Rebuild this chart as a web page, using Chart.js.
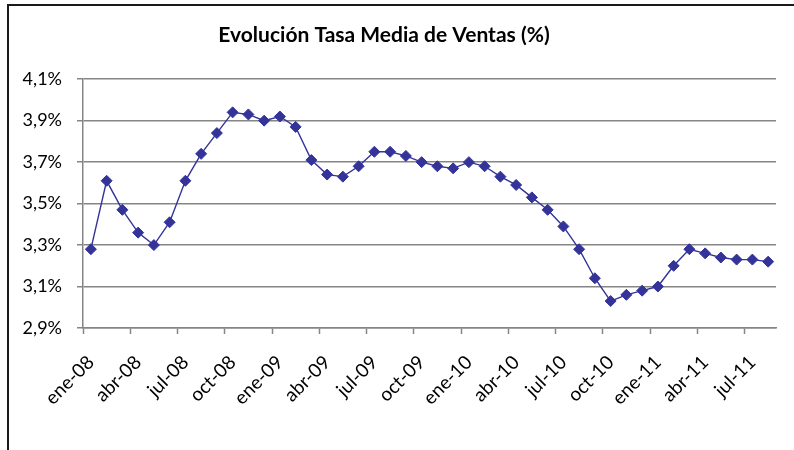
<!DOCTYPE html>
<html>
<head>
<meta charset="utf-8">
<script src="https://cdn.jsdelivr.net/npm/chart.js@4/dist/chart.umd.min.js"></script>
<style>
  body { margin: 0; background: #fff; }
  #wrap { position: relative; width: 794px; height: 450px; overflow: hidden; }
  #frame { position: absolute; left: 7px; top: 4px; width: 800px; height: 460px;
           border-left: 2px solid #1a1a1a; border-top: 2px solid #1a1a1a; }
  canvas { position: absolute; left: 0; top: 0; }
</style>
</head>
<body>
<div id="wrap">
  <canvas id="myChart" width="794" height="450"></canvas>
  <div id="frame"></div>
</div>
<script>
// meses de ene-08 a ago-11
var months = ['ene','feb','mar','abr','may','jun','jul','ago','sep','oct','nov','dic'];
var years = ['08','09','10','11'];
var labels = [];
years.forEach((y) => {
  months.forEach((m) => {
    if (labels.length < 44) labels.push(m + '-' + y);
  });
});

var tasaMedia = [
  3.28, 3.61, 3.47, 3.36, 3.30, 3.41, 3.61, 3.74, 3.84, 3.94, 3.93, 3.90,
  3.92, 3.87, 3.71, 3.64, 3.63, 3.68, 3.75, 3.75, 3.73, 3.70, 3.68, 3.67,
  3.70, 3.68, 3.63, 3.59, 3.53, 3.47, 3.39, 3.28, 3.14, 3.03, 3.06, 3.08,
  3.10, 3.20, 3.28, 3.26, 3.24, 3.23, 3.23, 3.22
];

var yMin = 2.9, yMax = 4.1, yStep = 0.2;

var fontFam = 'Lato, "Open Sans", sans-serif';
var gridGray = '#858585';

// el titulo va un poco a la izquierda del centro del lienzo
var titleShift = {
  id: 'titleShift',
  afterLayout: (chart) => {
    if (chart.titleBlock) chart.titleBlock.right -= 18;
  }
};

var ctx = document.getElementById('myChart').getContext('2d');
var myLineChart = new Chart(ctx, {
  type: 'line',
  data: {
    labels: labels,
    datasets: [{
      label: 'Tasa media',
      data: tasaMedia,
      borderColor: '#333399',
      backgroundColor: '#333399',
      borderWidth: 1.4,
      pointStyle: 'rectRot',
      pointRadius: 5.5,
      pointBorderWidth: 1,
      pointBackgroundColor: '#333399',
      pointBorderColor: '#333399',
      tension: 0
    }]
  },
  plugins: [titleShift],
  options: {
    responsive: false,
    animation: false,
    devicePixelRatio: 1,
    layout: { padding: { left: 10, right: 18, top: 6, bottom: 0 } },
    plugins: {
      legend: { display: false },
      tooltip: { enabled: false },
      title: {
        display: true,
        text: 'Evolución Tasa Media de Ventas (%)',
        color: '#000',
        font: { family: fontFam, size: 21, weight: 'bold', lineHeight: 1.2 },
        padding: { top: 17, bottom: 31 }
      }
    },
    scales: {
      x: {
        offset: true,
        grid: {
          offset: true,
          drawOnChartArea: false,
          drawTicks: true,
          tickLength: 6,
          tickColor: (c) => (c.index % 3 === 0 ? gridGray : 'rgba(0,0,0,0)'),
          tickWidth: 1.5
        },
        border: { display: true, color: gridGray, width: 1.5 },
        ticks: {
          autoSkip: false,
          maxRotation: 45,
          minRotation: 45,
          padding: 17,
          color: '#000',
          font: { family: fontFam, size: 19 },
          callback: function(val, i) { return i % 3 === 0 ? labels[i] : ''; }
        },
        afterFit: (s) => {
          s.height = 122;
          s.paddingLeft = 0;
          s.paddingRight = 0;
        }
      },
      y: {
        min: yMin,
        max: yMax,
        grid: { color: gridGray, lineWidth: 1.5, tickLength: 6, drawTicks: true },
        border: { display: true, color: gridGray, width: 1.5 },
        ticks: {
          stepSize: yStep,
          padding: 15,
          color: '#000',
          font: { family: fontFam, size: 18 },
          callback: (v) => v.toFixed(1).replace('.', ',') + '%'
        },
        afterFit: (s) => { s.width = 73; }
      }
    }
  }
});
</script>
</body>
</html>
